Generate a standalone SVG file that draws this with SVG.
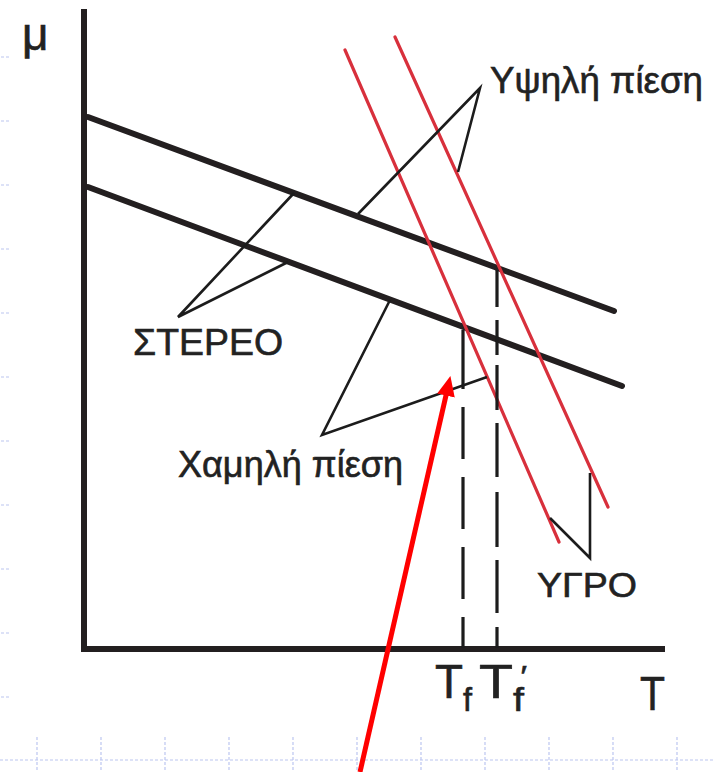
<svg xmlns="http://www.w3.org/2000/svg" width="715" height="772" viewBox="0 0 715 772">
<style>
.grid{stroke:#bcc6f0;stroke-width:1.2;stroke-dasharray:3 2;fill:none}
.axis{stroke:#231f20;stroke-width:6;fill:none;stroke-linecap:square}
.solid{stroke:#231f20;stroke-width:6;fill:none;stroke-linecap:round}
.liquid{stroke:#d8303c;stroke-width:3.2;fill:none;stroke-linecap:round}
.ptr{stroke:#1c1c1c;stroke-width:2.6;fill:none;stroke-linejoin:miter}
.dash{stroke:#1c1c1c;stroke-width:3.2;fill:none}
.lbl{font-family:"Liberation Sans","DejaVu Sans",sans-serif;fill:#222;stroke:#222;stroke-width:0.6}
.red{stroke:#ff0000;stroke-width:5;fill:none}
</style>
<defs>
<marker id="ah" markerUnits="userSpaceOnUse" markerWidth="20" markerHeight="18" viewBox="0 0 20 18" refX="2" refY="9" orient="auto">
<path d="M0,0 L20,9 L0,18 z" fill="#ff0000"/>
</marker>
</defs>
<rect width="715" height="772" fill="#ffffff"/>
<g id="grid">
<path class="grid" d="M0,760 H715"/>
<path class="grid" d="M37,737 V772 M101,737 V772 M165,737 V772 M229,737 V772 M293,737 V772 M357,737 V772 M421,737 V772 M485,737 V772 M549,737 V772 M613,737 V772 M677,737 V772"/>
<path class="grid" d="M1,57 H11 M1,121 H11 M1,185 H11 M1,249 H11 M1,313 H11 M1,377 H11 M1,441 H11 M1,505 H11 M1,569 H11 M1,633 H11 M1,697 H11"/>
</g>
<g id="axes">
<path class="axis" d="M84,12 V649 H662"/>
</g>
<g id="solid-curves">
<line class="solid" x1="88" y1="117" x2="614" y2="311"/>
<line class="solid" x1="88" y1="187" x2="622" y2="386"/>
</g>
<g id="liquid-curves">
<line class="liquid" x1="345" y1="50" x2="559" y2="542"/>
<line class="liquid" x1="395" y1="37" x2="608" y2="507"/>
</g>
<g id="connectors">
<line class="dash" x1="463" y1="330" x2="463" y2="648" stroke-dasharray="59 18 52 18 52 18 52 18 40"/>
<line class="dash" x1="497" y1="270" x2="497" y2="648" stroke-dasharray="37 13 35 10 45 13 54 15 55 13 53 14 21"/>
<polyline class="ptr" points="358,214 480,88 458,172"/>
<polyline class="ptr" points="294,193 178,317 288,262"/>
<polyline class="ptr" points="390,300 322,435 487,377"/>
<polyline class="ptr" points="550,518 590,558 590,473"/>
<line class="red" x1="360" y1="772" x2="446.4" y2="393.6" marker-end="url(#ah)"/>
</g>
<g id="label-mu"><text class="lbl" x="22" y="50" font-size="46">μ</text></g>
<g id="label-high"><text class="lbl" x="490" y="93" font-size="36" textLength="213" lengthAdjust="spacingAndGlyphs">Υψηλή πίεση</text></g>
<g id="label-solid"><text class="lbl" x="133" y="355" font-size="37" textLength="150" lengthAdjust="spacingAndGlyphs">ΣΤΕΡΕΟ</text></g>
<g id="label-low"><text class="lbl" x="178" y="477" font-size="36" textLength="225" lengthAdjust="spacingAndGlyphs">Χαμηλή πίεση</text></g>
<g id="label-liquid"><text class="lbl" x="537" y="597" font-size="35" textLength="100" lengthAdjust="spacingAndGlyphs">ΥΓΡΟ</text></g>
<g id="label-Tf">
<text class="lbl" x="435" y="698" font-size="48" textLength="37" lengthAdjust="spacingAndGlyphs">T<tspan font-size="34" dy="13">f</tspan></text>
</g>
<g id="label-Tf2">
<text class="lbl" x="479" y="698" font-size="48" textLength="48" lengthAdjust="spacingAndGlyphs">T<tspan font-size="34" dy="13">f</tspan><tspan font-size="30" dx="-3" dy="-25">′</tspan></text>
</g>
<g id="label-T"><text class="lbl" x="640" y="710" font-size="48" textLength="25" lengthAdjust="spacingAndGlyphs">T</text></g>
</svg>
